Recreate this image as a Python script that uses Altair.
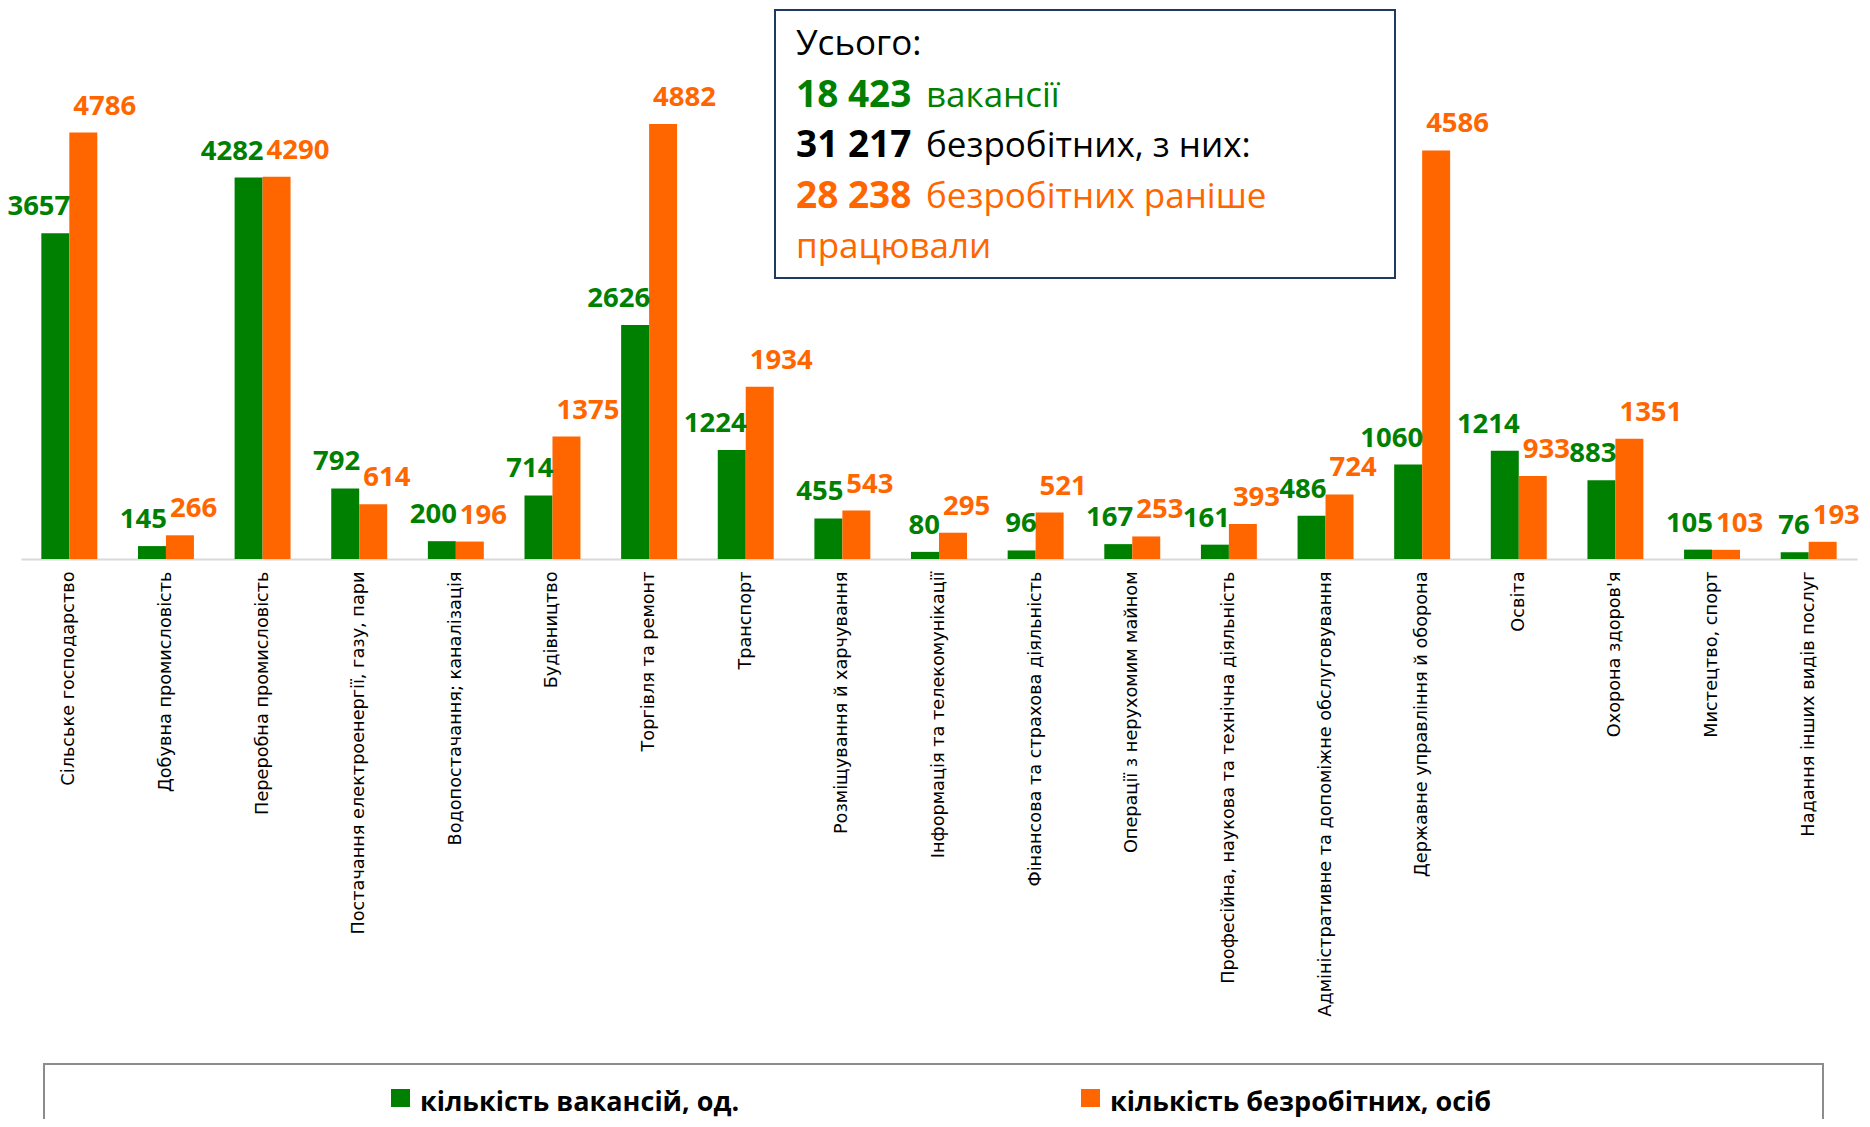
import altair as alt
import pandas as pd

categories = [
    "Сільське господарство",
    "Добувна промисловість",
    "Переробна промисловість",
    "Постачання електроенергії, газу, пари",
    "Водопостачання; каналізація",
    "Будівництво",
    "Торгівля та ремонт",
    "Транспорт",
    "Розміщування й харчування",
    "Інформація та телекомунікації",
    "Фінансова та страхова діяльність",
    "Операції з нерухомим майном",
    "Професійна, наукова та технічна діяльність",
    "Адміністративне та допоміжне обслуговування",
    "Державне управління й оборона",
    "Освіта",
    "Охорона здоров'я",
    "Мистецтво, спорт",
    "Надання інших видів послуг",
]
vacancies = [3657, 145, 4282, 792, 200, 714, 2626, 1224, 455, 80, 96, 167, 161, 486, 1060, 1214, 883, 105, 76]
unemployed = [4786, 266, 4290, 614, 196, 1375, 4882, 1934, 543, 295, 521, 253, 393, 724, 4586, 933, 1351, 103, 193]

series_names = ["кількість вакансій, од.", "кількість безробітних, осіб"]
series_colors = ["#008000", "#FF6600"]

summary_title = "Усього:"
summary_numbers = ["18 423", "31 217", "28 238"]
summary_texts = ["вакансії", "безробітних, з них:", "безробітних раніше"]
summary_last = "працювали"
summary_colors = ["#008000", "#000000", "#FF6600"]

rows = []
for c, v, u in zip(categories, vacancies, unemployed):
    rows.append({"cat": c, "series": series_names[0], "value": v})
    rows.append({"cat": c, "series": series_names[1], "value": u})
df = pd.DataFrame(rows)

x_enc = alt.X(
    "cat:N",
    sort=categories,
    scale=alt.Scale(paddingInner=0.421, paddingOuter=0.2105),
    axis=alt.Axis(
        title=None, labelAngle=270, ticks=False, labelPadding=12,
        labelFont="DejaVu Sans", labelFontSize=17.7, labelColor="#000000",
        domainColor="#d9d9d9", domainWidth=2, labelLimit=700, grid=False,
    ),
)
y_enc = alt.Y("value:Q", scale=alt.Scale(domain=[0, 5500], nice=False), axis=None)
xoff = alt.XOffset("series:N", sort=series_names, scale=alt.Scale(paddingInner=0, paddingOuter=0))
color_enc = alt.Color("series:N", scale=alt.Scale(domain=series_names, range=series_colors), legend=None)

base = alt.Chart(df)
bars = base.mark_bar().encode(x=x_enc, y=y_enc, xOffset=xoff, color=color_enc)

label_font = "Open Sans"
labels_green = base.transform_filter(alt.datum.series == series_names[0]).mark_text(
    font=label_font, fontSize=27.5, fontWeight="bold", color=series_colors[0],
    align="right", baseline="alphabetic", dy=-18, dx=15,
).encode(x=x_enc, y=y_enc, xOffset=xoff, text="value:Q")
labels_orange = base.transform_filter(alt.datum.series == series_names[1]).mark_text(
    font=label_font, fontSize=27.5, fontWeight="bold", color=series_colors[1],
    align="left", baseline="alphabetic", dy=-18, dx=-10,
).encode(x=x_enc, y=y_enc, xOffset=xoff, text="value:Q")

one = pd.DataFrame({"k": [0]})

def txt(s, x, y, color, weight="normal", size=35, font="Open Sans"):
    return alt.Chart(one).mark_text(
        align="left", baseline="alphabetic", font=font, fontSize=size,
        fontWeight=weight, color=color,
    ).encode(x=alt.value(x), y=alt.value(y), text=alt.value(s))

# summary box
box = alt.Chart(one).mark_rect(fill="white", stroke="#1F3864", strokeWidth=2).encode(
    x=alt.value(754), x2=alt.value(1374), y=alt.value(-59), y2=alt.value(209)
)
summary_layers = [txt(summary_title, 775, -14, "#000000")]
line_y = [38, 88, 139]
for num, t, col, ly in zip(summary_numbers, summary_texts, summary_colors, line_y):
    summary_layers.append(txt(num, 775, ly, col, weight="bold", size=37))
    summary_layers.append(txt(t, 905, ly, col))
summary_layers.append(txt(summary_last, 775, 189, summary_colors[2]))

# legend box
legend_box = alt.Chart(one).mark_rect(fillOpacity=0, stroke="#8c8c8c", strokeWidth=2).encode(
    x=alt.value(23), x2=alt.value(1802), y=alt.value(995), y2=alt.value(1120)
)
legend_sq1 = alt.Chart(one).mark_rect(color=series_colors[0]).encode(
    x=alt.value(370), x2=alt.value(389), y=alt.value(1020), y2=alt.value(1038)
)
legend_sq2 = alt.Chart(one).mark_rect(color=series_colors[1]).encode(
    x=alt.value(1060), x2=alt.value(1079), y=alt.value(1020), y2=alt.value(1038)
)
legend_t1 = txt(series_names[0], 399, 1042, "#000000", weight="bold", size=27)
legend_t2 = txt(series_names[1], 1089, 1042, "#000000", weight="bold", size=27)

chart = alt.layer(
    bars, labels_green, labels_orange, box, *summary_layers,
    legend_box, legend_sq1, legend_sq2, legend_t1, legend_t2,
).properties(
    width=1836, height=490,
    autosize=alt.AutoSizeParams(type="none"),
    padding={"left": 13, "top": 61, "right": 5, "bottom": 560},
).configure_view(stroke=None)

chart.save("out.html", embed_options={"renderer": "svg", "actions": False})
